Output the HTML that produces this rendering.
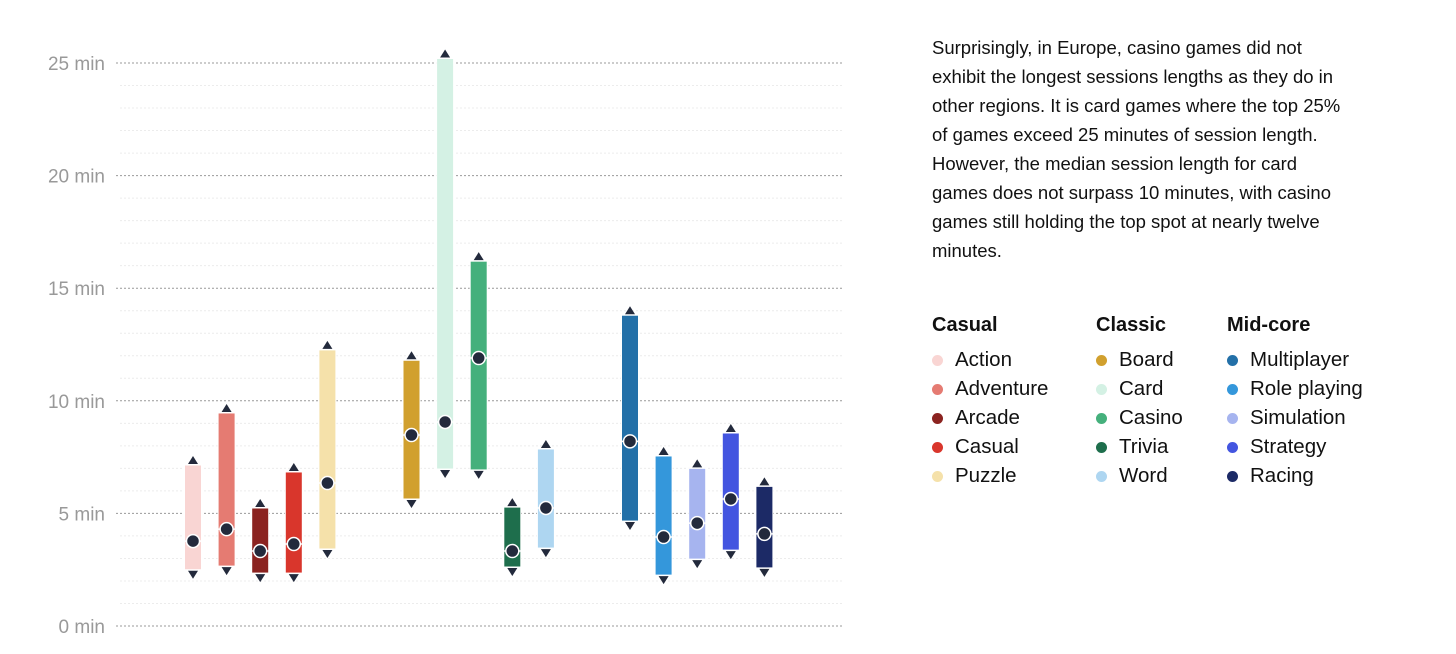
<!DOCTYPE html>
<html><head><meta charset="utf-8"><style>
body{margin:0;background:#fff;font-family:"Liberation Sans",sans-serif;}
#wrap{position:relative;width:1456px;height:654px;overflow:hidden;}
#note{position:absolute;left:932px;top:33px;font-size:18.5px;line-height:29px;color:#111;white-space:nowrap;}
.col{position:absolute;top:311px;font-size:20.5px;color:#111;}
.col h4{margin:0 0 6px 0;font-size:20px;font-weight:bold;line-height:28px;}
.item{height:29px;line-height:29px;white-space:nowrap;}
.dot{display:inline-block;width:11px;height:11px;border-radius:50%;margin:0 12px 0 0;vertical-align:0px;}
</style></head><body>
<div id="wrap">
<svg id="chart" width="900" height="654" style="position:absolute;left:0;top:0"></svg>
<div id="note">Surprisingly, in Europe, casino games did not<br>exhibit the longest sessions lengths as they do in<br>other regions. It is card games where the top 25%<br>of games exceed 25 minutes of session length.<br>However, the median session length for card<br>games does not surpass 10 minutes, with casino<br>games still holding the top spot at nearly twelve<br>minutes.</div>
<div id="legend"></div>
</div>
<script>
const categories=["Action","Adventure","Arcade","Casual","Puzzle","Board","Card","Casino","Trivia","Word","Multiplayer","Role playing","Simulation","Strategy","Racing"];
const groups=["Casual","Classic","Mid-core"];
const lowValues=[2.5,2.66,2.35,2.35,3.42,5.64,6.97,6.93,2.62,3.46,4.66,2.26,2.97,3.37,2.58];
const medianValues=[3.77,4.3,3.33,3.64,6.35,8.48,9.06,11.9,3.33,5.24,8.2,3.95,4.57,5.64,4.09];
const highValues=[7.15,9.46,5.24,6.84,12.26,11.8,25.2,16.2,5.28,7.86,13.8,7.55,7.0,8.57,6.2];
const tickValues=[0,5,10,15,20,25];
const tickLabels=["0 min","5 min","10 min","15 min","20 min","25 min"];
const colors=["#f9d5d3","#e57b72","#8b2320","#d9362c","#f5e1aa","#d1a02e","#d4f1e4","#45b07c","#1e6e4c","#aed6f1","#2370a8","#3497db","#a6b4ef","#4355e0","#1c2a66"];
const NS="http://www.w3.org/2000/svg";
const svg=document.getElementById('chart');
const y=v=>626-v*22.52;
const x=i=>{const g=Math.floor(i/5),k=i%5;return 193+g*218.5+k*33.6;};
function mk(t,a,p){const e=document.createElementNS(NS,t);for(const k in a)e.setAttribute(k,a[k]);(p||svg).appendChild(e);return e;}
for(let m=0;m<=25;m++){if(m%5===0)continue;
 const l=mk('line',{x1:120,x2:842,y1:y(m),y2:y(m),stroke:'#ececec','stroke-width':1,'stroke-dasharray':'2,2'});
 
 }
tickValues.forEach((v,i)=>{
 const l=mk('line',{x1:116,x2:842,y1:y(v),y2:y(v),stroke:'#999','stroke-width':1,'stroke-dasharray':'2,2'});
 
 
 const t=mk('text',{x:105,y:y(v)+7,'text-anchor':'end','font-size':19,fill:'#999','font-family':'Liberation Sans, sans-serif'});
 t.textContent=tickLabels[i];
 
 
});
categories.forEach((c,i)=>{
 const cx=x(i),top=y(highValues[i]),bot=y(lowValues[i]),my=y(medianValues[i]);
 const g=mk('g',{});
 
 
 mk('rect',{x:cx-8.5,y:top,width:17,height:bot-top,fill:colors[i],stroke:'#fff','stroke-width':1},g);
 mk('path',{d:`M${cx-5} ${top-1}L${cx+5} ${top-1}L${cx} ${top-9}Z`,fill:'#232a3c'},g);
 mk('path',{d:`M${cx-5} ${bot+1}L${cx+5} ${bot+1}L${cx} ${bot+9}Z`,fill:'#232a3c'},g);
 mk('line',{x1:cx-11,x2:cx+11,y1:my,y2:my,stroke:'#fff','stroke-width':1.5},g);
 mk('circle',{cx:cx,cy:my,r:6.5,fill:'#232a3c',stroke:'#fff','stroke-width':1.5},g);
});
const lg=document.getElementById('legend');
const lx=[932,1096,1227];
groups.forEach((gname,gi)=>{
 const col=document.createElement('div');col.className='col';col.style.left=lx[gi]+'px';
 
 
 const h=document.createElement('h4');h.textContent=gname;col.appendChild(h);
 for(let k=0;k<5;k++){const i=gi*5+k;
  const it=document.createElement('div');it.className='item';
  
  
  const d=document.createElement('span');d.className='dot';d.style.background=colors[i];
  it.appendChild(d);it.appendChild(document.createTextNode(categories[i]));col.appendChild(it);}
 lg.appendChild(col);
});
</script>
</body></html>
